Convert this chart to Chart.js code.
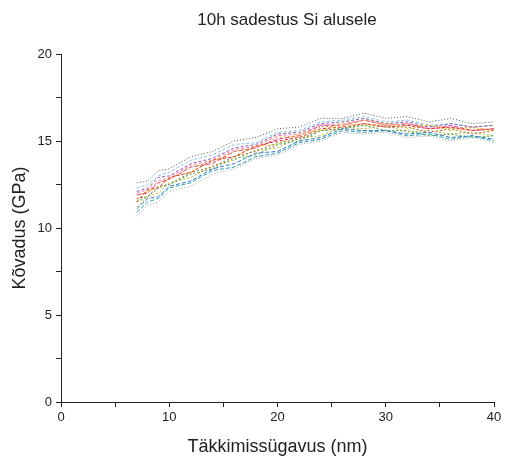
<!DOCTYPE html>
<html>
<head>
<meta charset="utf-8">
<script src="https://cdn.jsdelivr.net/npm/chart.js@4"></script>
<style>
html,body{margin:0;padding:0;background:#fff;}
#wrap{width:505px;height:458px;}
</style>
</head>
<body>
<div id="wrap"><canvas id="c" width="505" height="458"></canvas></div>
<script>
const depth = [7, 8, 9, 10, 12, 14, 16, 18, 20, 22, 24, 26, 28, 30, 32, 34, 36, 38, 40];
const s1  = [11.5,12.2,12.3,12.9,13.2,13.9,14.1,14.7,15.0,15.2,15.7,15.8,16.0,15.8,15.9,15.7,15.8,15.6,15.7];
const s2  = [11.9,12.1,12.6,12.8,13.5,13.8,14.4,14.6,15.2,15.3,15.8,15.9,16.2,16.0,15.9,15.9,15.7,15.8,15.6];
const s3  = [11.1,11.7,11.8,12.4,12.7,13.4,13.7,14.3,14.4,15.0,15.2,15.7,15.6,15.6,15.4,15.5,15.2,15.3,15.1];
const s4  = [11.5,11.8,12.3,12.5,13.1,13.4,14.0,14.2,14.8,15.0,15.6,15.7,15.9,15.6,15.6,15.3,15.4,15.2,15.3];
const s5  = [12.1,12.3,12.9,13.0,13.7,14.0,14.6,14.8,15.4,15.5,16.0,16.1,16.3,16.0,16.1,15.8,16.0,15.8,15.9];
const s6  = [11.6,12.1,12.3,12.9,13.2,13.9,14.1,14.7,14.8,15.4,15.6,16.0,15.9,16.0,15.7,15.9,15.6,15.7,15.6];
const s7  = [10.9,11.5,11.7,12.3,12.6,13.3,13.5,14.1,14.3,14.9,15.1,15.6,15.5,15.6,15.3,15.4,15.1,15.3,15.0];
const s8  = [12.6,12.7,13.3,13.4,14.1,14.4,15.0,15.2,15.7,15.8,16.3,16.3,16.6,16.3,16.4,16.1,16.3,16.0,16.1];
const s9  = [12.0,12.2,12.7,12.9,13.6,13.9,14.5,14.7,15.3,15.4,15.9,16.0,16.2,15.9,16.0,15.7,15.8,15.6,15.7];
const s10 = [10.7,11.3,11.5,12.1,12.4,13.1,13.4,14.0,14.2,14.8,15.0,15.5,15.4,15.5,15.2,15.3,15.0,15.2,14.9];
const s11 = [11.7,11.8,12.4,12.5,13.2,13.5,14.1,14.4,14.9,15.1,15.6,15.7,16.0,15.8,15.8,15.5,15.7,15.4,15.6];
const s12 = [12.3,12.5,13.0,13.2,13.9,14.2,14.8,14.9,15.5,15.6,16.1,16.2,16.4,16.1,16.2,15.9,16.0,15.8,15.9];
const s13 = [11.2,11.8,12.0,12.6,12.9,13.6,13.9,14.5,14.6,15.2,15.3,15.8,15.7,15.9,15.5,15.6,15.4,15.5,15.3];
const s14 = [11.9,12.0,12.6,12.8,13.5,13.7,14.4,14.6,15.1,15.3,15.9,15.9,16.2,15.9,16.0,15.7,15.9,15.6,15.7];
const series = [s1,s2,s3,s4,s5,s6,s7,s8,s9,s10,s11,s12,s13,s14];
const colors = ['#e8342c','#f39a2b','#3a78c2','#45a84a','#8e5bb0','#f2d23a','#26a6b5','#555555','#ee82b5','#9a9a9a','#a5683a','#7fc2e8','#b5b52a','#d43fa3'];
const dashes = [[3,2],[2,2],[4,2],[2,2],[3,2],[2,2],[4,2],[1,2],[3,2],[1,2],[2,2],[3,2],[2,2],[4,2]];
const yTickLabels = ['0','5','10','15','20'];
const xTickLabels = ['0','10','20','30','40'];

const FONT = '"Liberation Sans", Arial, sans-serif';

const datasets = series.map((s,i)=>({
  data: depth.map((x,j)=>({x:x,y:s[j]})),
  borderColor: colors[i],
  borderWidth: 1,
  borderDash: dashes[i],
  pointRadius: 0,
  fill: false,
  tension: 0
}));

const titlePlugin = {
  id:'titleText',
  afterDraw(chart){
    const ctx = chart.ctx;
    ctx.save();
    ctx.fillStyle = '#222';
    ctx.font = '17px ' + FONT;
    ctx.textAlign = 'center';
    ctx.textBaseline = 'middle';
    ctx.fillText('10h sadestus Si alusele', 287, 20);
    ctx.restore();
  }
};

new Chart(document.getElementById('c'), {
  type: 'line',
  data: { datasets },
  options: {
    responsive: false,
    animation: false,
    layout: { padding: { top: 54, right: 11, left: 0, bottom: 0 } },
    plugins: { legend: { display: false }, tooltip: { enabled: false } },
    scales: {
      x: {
        type: 'linear', min: 0, max: 40,
        border: { color: '#222', width: 1 },
        grid: { drawOnChartArea: false, tickLength: 5, color: '#222' },
        ticks: {
          stepSize: 5, autoSkip: false, maxRotation: 0, padding: 3,
          color: '#222', font: { size: 13, family: FONT },
          callback: (v) => (v % 10 === 0 ? xTickLabels[v/10] : '')
        },
        title: { display: true, text: 'Täkkimissügavus (nm)', color: '#222', padding: { top: 4, bottom: 0 },
                 font: { size: 18, family: FONT } },
        afterFit: (s) => { s.height = 56; }
      },
      y: {
        type: 'linear', min: 0, max: 20,
        border: { color: '#222', width: 1 },
        grid: { drawOnChartArea: false, tickLength: 5, color: '#222' },
        ticks: {
          stepSize: 2.5, autoSkip: false, padding: 4,
          color: '#222', font: { size: 13, family: FONT },
          callback: (v) => (v % 5 === 0 ? yTickLabels[v/5] : '')
        },
        title: { display: true, text: 'Kõvadus (GPa)', color: '#222', padding: { top: 9, bottom: 4 },
                 font: { size: 18, family: FONT } },
        afterFit: (s) => { s.width = 61; }
      }
    }
  },
  plugins: [titlePlugin]
});
</script>
</body>
</html>
